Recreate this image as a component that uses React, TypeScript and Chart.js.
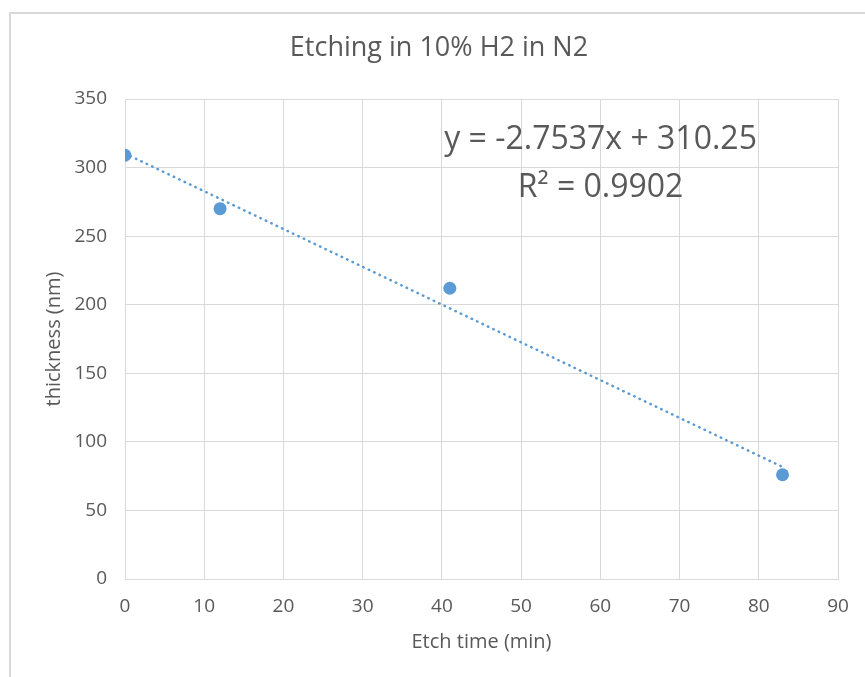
import React, { useEffect, useRef } from "react";
import { Chart, registerables } from "chart.js";

Chart.register(...registerables);

const etchTime = [0, 12, 41, 83];
const thickness = [309, 270, 212, 76];
const slope = -2.7537;
const intercept = 310.25;
const trendX = [0, 83];
const xTicks = [0, 10, 20, 30, 40, 50, 60, 70, 80, 90];
const yTicks = [0, 50, 100, 150, 200, 250, 300, 350];
const titleText = "Etching in 10% H2 in N2";
const eqLine1 = "y = -2.7537x + 310.25";
const eqLine2 = "R² = 0.9902";

const FONT = "'Open Sans', 'DejaVu Sans', sans-serif";
const GRAY = "#595959";
const BLUE = "#5B9BD5";
const GRID = "#D9D9D9";

export default function App() {
  const ref = useRef<HTMLCanvasElement>(null);
  useEffect(() => {
    if (!ref.current) return;
    const eqPlugin = {
      id: "eq",
      afterDatasetsDraw(chart: any) {
        const { ctx, chartArea } = chart;
        ctx.save();
        ctx.fillStyle = GRAY;
        ctx.font = `32px ${FONT}`;
        ctx.textAlign = "center";
        ctx.textBaseline = "middle";
        const cx = chartArea.left + (chartArea.right - chartArea.left) * 0.667;
        ctx.fillText(eqLine1, cx, chartArea.top + 41);
        ctx.fillText(eqLine2, cx, chartArea.top + 89);
        ctx.restore();
      },
    };
    const chart = new Chart(ref.current, {
      type: "scatter",
      data: {
        datasets: [
          {
            label: "trend",
            data: trendX.map((x) => ({ x, y: slope * x + intercept })),
            showLine: true,
            borderColor: BLUE,
            borderWidth: 2.5,
            borderDash: [0.5, 5.5],
            borderCapStyle: "round",
            pointRadius: 0,
            fill: false,
          },
          {
            label: "thickness",
            data: etchTime.map((x, i) => ({ x, y: thickness[i] })),
            backgroundColor: BLUE,
            borderColor: BLUE,
            pointRadius: 6.5,
            pointBorderWidth: 0,
          },
        ],
      },
      options: {
        responsive: false,
        animation: false,
        layout: { padding: { left: 40, right: 27, top: 0, bottom: 0 } },
        plugins: {
          legend: { display: false },
          tooltip: { enabled: false },
          title: {
            display: true,
            text: titleText,
            color: GRAY,
            font: { family: FONT, size: 27, weight: "normal", lineHeight: 1.2 },
            padding: { top: 32, bottom: 34.6 },
          },
        },
        scales: {
          x: {
            type: "linear",
            min: 0,
            max: 90,
            afterFit: (s: any) => {
              s.height = 98;
            },
            afterBuildTicks: (s: any) => {
              s.ticks = xTicks.map((v) => ({ value: v }));
            },
            grid: { color: GRID, drawTicks: false, lineWidth: 1 },
            border: { color: GRID },
            ticks: { color: GRAY, font: { family: FONT, size: 19 }, padding: 16 },
            title: {
              display: true,
              text: "Etch time (min)",
              color: GRAY,
              font: { family: FONT, size: 20 },
              padding: { top: 0, bottom: 23 },
            },
          },
          y: {
            type: "linear",
            min: 0,
            max: 350,
            afterFit: (s: any) => {
              s.width = 85;
            },
            afterBuildTicks: (s: any) => {
              s.ticks = yTicks.map((v) => ({ value: v }));
            },
            grid: { color: GRID, drawTicks: false, lineWidth: 1 },
            border: { color: GRID },
            ticks: { color: GRAY, font: { family: FONT, size: 19 }, padding: 18 },
            title: {
              display: true,
              text: "thickness (nm)",
              color: GRAY,
              font: { family: FONT, size: 20 },
              padding: { top: 2, bottom: 0 },
            },
          },
        },
      },
      plugins: [eqPlugin],
    } as any);
    return () => chart.destroy();
  }, []);
  return (
    <div style={{ position: "absolute", left: 0, top: 0, width: 865, height: 677, background: "#fff", overflow: "hidden" }}>
      <div
        style={{
          position: "absolute",
          left: 9,
          top: 12,
          width: 880,
          height: 700,
          borderLeft: "2px solid #D9D9D9",
          borderTop: "2px solid #D9D9D9",
        }}
      />
      <canvas ref={ref} width={865} height={677} style={{ position: "absolute", left: 0, top: 0 }} />
    </div>
  );
}
